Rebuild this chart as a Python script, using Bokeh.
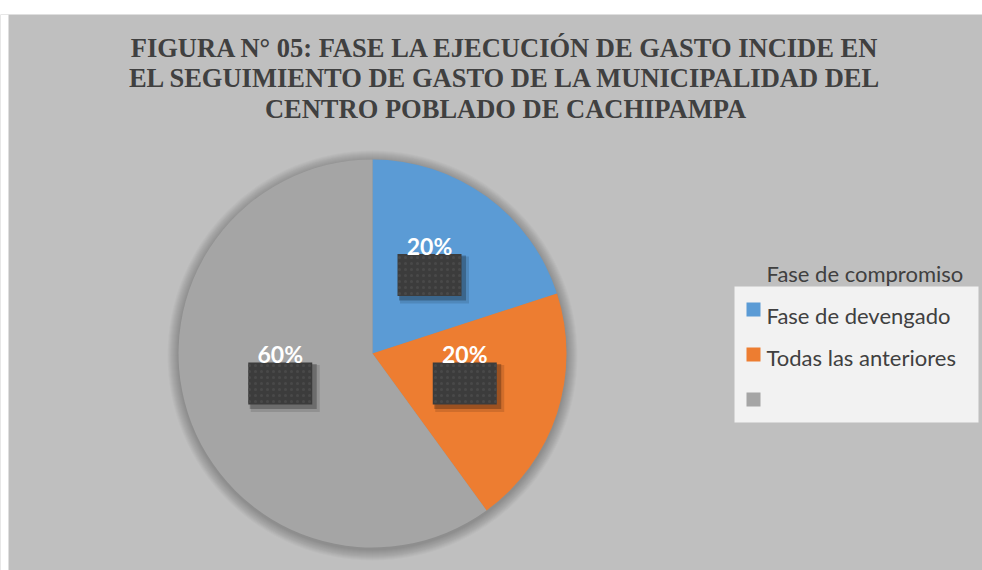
import math
from bokeh.plotting import figure
from bokeh.models import Range1d, Spacer
from bokeh.layouts import column
from bokeh.core.properties import value
from bokeh.embed import file_html
from bokeh.resources import INLINE

# ---- data ----
title_lines = [
    "FIGURA N° 05: FASE LA EJECUCIÓN DE GASTO INCIDE EN",
    "EL SEGUIMIENTO DE GASTO DE LA MUNICIPALIDAD DEL",
    "CENTRO POBLADO DE CACHIPAMPA",
]
categories = ["Fase de devengado", "Todas las anteriores", ""]
values = [20, 20, 60]
legend_title = "Fase de compromiso"

# ---- styles ----
colors = ["#5b9bd5", "#ed7d31", "#a5a5a5"]
BG = "#bfbfbf"

TOP = 14
W, H = 982, 556


def X(px):
    return px


def Y(py):
    return H - (py - TOP)


p = figure(width=W, height=H, x_range=Range1d(0, W), y_range=Range1d(0, H),
           output_backend="svg", toolbar_location=None, min_border=0,
           x_axis_location=None, y_axis_location=None,
           background_fill_color=BG, border_fill_color=BG, outline_line_color=None)
p.xgrid.visible = False
p.ygrid.visible = False

# white page margin on the left
p.quad(left=[0], right=[8], bottom=[0], top=[H], fill_color="white", line_color=None)

# title
for i, line in enumerate(title_lines):
    p.text(x=[X(505)], y=[Y(47 + i * 30.5)], text=[line],
           text_font=value("Liberation Serif"), text_font_style="bold",
           text_font_size="26.5px", text_color="#404040",
           text_align="center", text_baseline="middle")

# pie
cx, cy, r = X(372), Y(353), 194
for k in range(1, 12):
    p.circle(x=[cx], y=[cy - 2], radius=r + k, fill_color="black",
             fill_alpha=0.024, line_color=None)

total = sum(values)
cum = 0
mids = []
for v, c in zip(values, colors):
    a0 = math.pi / 2 - 2 * math.pi * cum / total
    a1 = math.pi / 2 - 2 * math.pi * (cum + v) / total
    p.wedge(x=[cx], y=[cy], radius=r, start_angle=[a0], end_angle=[a1],
            direction="clock", fill_color=c, line_color=None)
    mids.append((a0 + a1) / 2)
    cum += v

# data labels
for v, m in zip(values, mids):
    bx = cx + 0.5 * r * math.cos(m)
    by = cy + 0.5 * r * math.sin(m)
    for off, al in [(5, 0.12), (3, 0.25)]:
        p.rect(x=[bx + off], y=[by - off], width=64 + off, height=42 + off,
               fill_color="black", fill_alpha=al, line_color=None)
    p.rect(x=[bx], y=[by], width=64, height=42, fill_color="#3c3c3c",
           line_color=None, hatch_pattern="dot", hatch_color="#494949",
           hatch_scale=6, hatch_weight=1.5)
    p.text(x=[bx], y=[by + 29], text=[f"{round(100 * v / total)}%"],
           text_font=value("Lato"), text_font_style="bold", text_font_size="23px",
           text_color="white", text_align="center", text_baseline="middle")

# legend
p.rect(x=[X(856)], y=[Y(354)], width=244, height=136, fill_color="#f2f2f2",
       line_color=None)
p.text(x=[X(766)], y=[Y(273)], text=[legend_title], text_font=value("Lato"),
       text_font_size="22px", text_color="#404040", text_align="left",
       text_baseline="alphabetic")
for i, (cat, c) in enumerate(zip(categories, colors)):
    sy = 309 + i * 45
    p.rect(x=[X(753)], y=[Y(sy)], width=14, height=14, fill_color=c, line_color=None)
    p.text(x=[X(766)], y=[Y(315 + i * 42)], text=[cat], text_font=value("Lato"),
           text_font_size="22px", text_color="#404040", text_align="left",
           text_baseline="alphabetic")

layout = column(Spacer(width=W, height=TOP), p)
open("out.html", "w").write(file_html(layout, INLINE))
